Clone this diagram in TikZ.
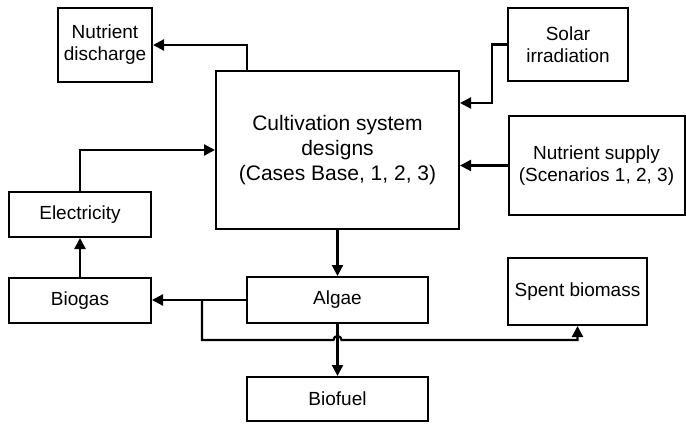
\documentclass[tikz,border=0pt]{standalone}
\usepackage{fontspec}
\setmainfont{Liberation Sans}
\usetikzlibrary{arrows.meta}

\tikzset{
  box/.style={draw, line width=2pt, align=center, inner sep=2pt,
              font=\fontsize{19}{22}\selectfont},
  link/.style={draw, line width=2.2pt, -{Triangle[length=11pt,width=11pt]}}
}

\begin{document}
\begin{tikzpicture}[x=1pt,y=-1pt]
	%\draw[help lines] (0,0) grid[step=50] (686,425);
	\useasboundingbox (0,0) rectangle (686,425);
	\node[box, minimum width=94pt, minimum height=74pt] (disch) at (105,45) {Nutrient\\discharge};
	\node[box, minimum width=120pt, minimum height=73pt] (solar) at (568,44.5) {Solar\\irradiation};
	\node[box, minimum width=243pt, minimum height=158pt, font=\fontsize{21}{25}\selectfont] (main) at (337.5,150) {Cultivation system\\designs\\(Cases Base, 1, 2, 3)};
	\node[box, minimum width=176pt, minimum height=99pt] (supply) at (596.5,165.5) {Nutrient supply\\(Scenarios 1, 2, 3)};
	\node[box, minimum width=142pt, minimum height=45pt] (elec) at (80,214.5) {Electricity};
	\node[box, minimum width=142pt, minimum height=45pt] (biogas) at (80,300.5) {Biogas};
	\node[box, minimum width=181pt, minimum height=46pt] (algae) at (337.5,300) {Algae};
	\node[box, minimum width=139pt, minimum height=67pt] (spent) at (577.5,291.5) {Spent biomass};
	\node[box, minimum width=181pt, minimum height=44pt] (biofuel) at (337.5,399) {Biofuel};
	\coordinate (split) at (202,300);
	\coordinate (hop) at (333.5,340);

	\path[link] ([xshift=-90.5pt]main.north) |- (disch.east);
	\path[link] (solar.west) -- ++(-15,0) |- (main.east |- 0,103);
	\path[link] (supply.west) -- (main.east |- supply.west);
	\path[link] (elec.north) |- (main.west);
	\path[link] (biogas.north) -- (elec.south);
	\path[link] (main.south) -- (algae.north);
	\path[link] (algae.west) -- (biogas.east |- algae.west);
	\path[link] (algae.south) -- (biofuel.north);
	\path[link] (split) |- (hop) arc[start angle=180, end angle=0, radius=4pt] -| (spent.south);
\end{tikzpicture}
\end{document}
